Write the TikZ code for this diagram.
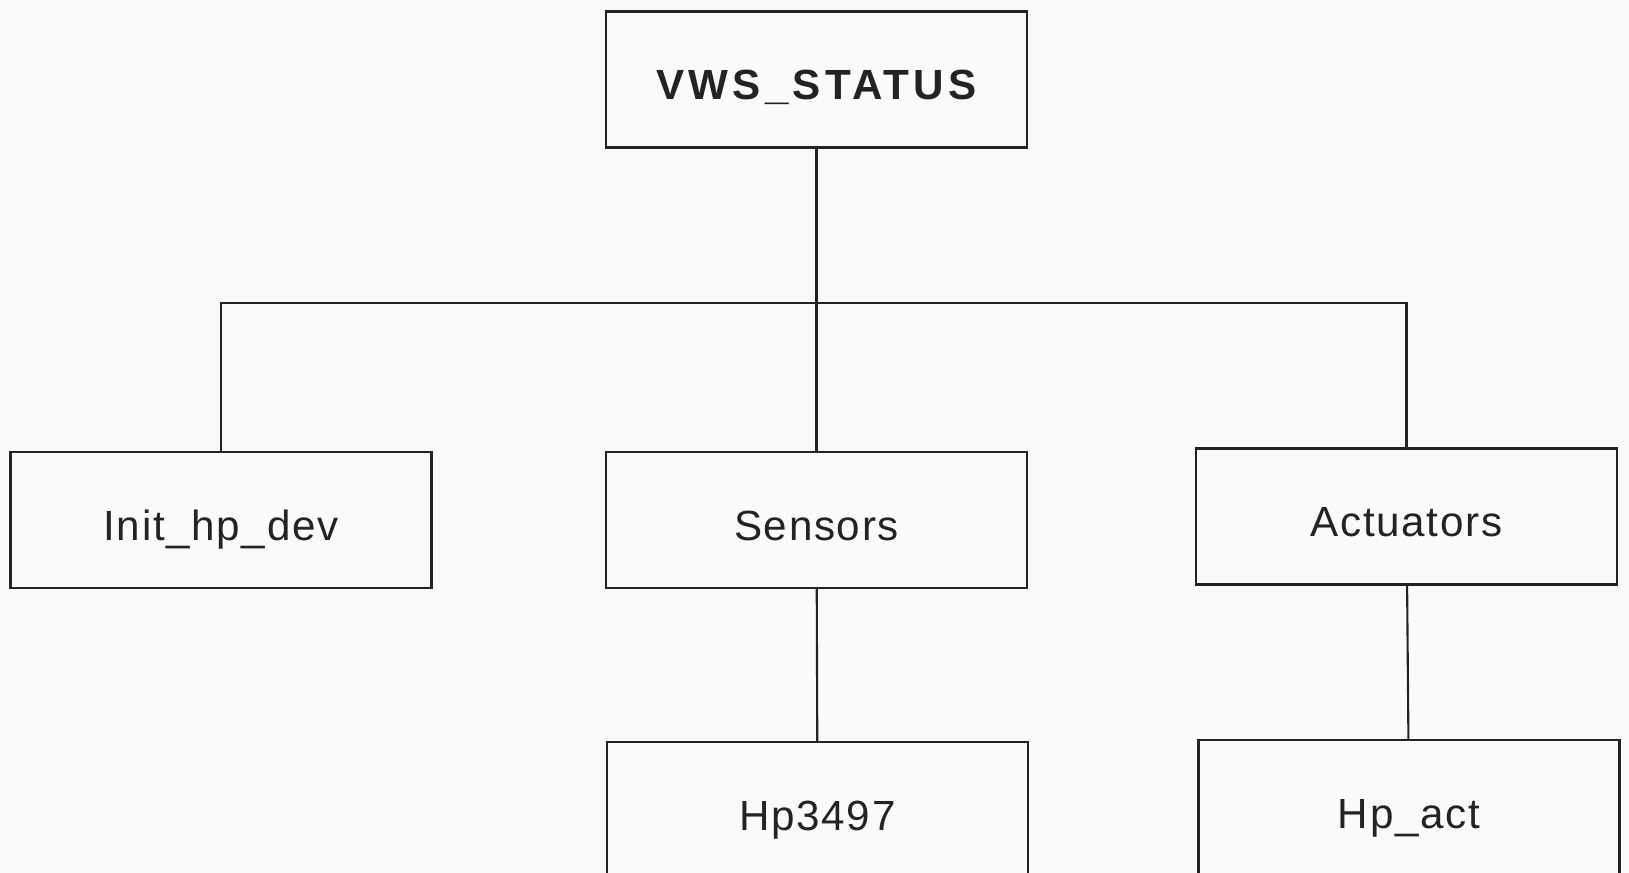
\documentclass[tikz,border=0pt]{standalone}
\usepackage{fontspec}
\setmainfont{Liberation Sans}
\usepackage{tikz}
\usetikzlibrary{positioning}
\definecolor{InkGray}{RGB}{35,35,35}
\definecolor{PaperWhite}{RGB}{250,250,248}

\begin{document}
\begin{tikzpicture}[
  box/.style={draw=InkGray, line width=0.6pt, text=InkGray, minimum width=4.21cm, minimum height=1.36cm, inner sep=0pt,
    text height=2.2ex, text depth=0pt,
    font=\fontsize{12}{14}\selectfont\addfontfeatures{LetterSpace=4}},
  topbox/.style={box, font=\fontsize{12}{14}\selectfont\bfseries\addfontfeatures{LetterSpace=10}},
  line/.style={draw=InkGray, line width=0.6pt}
]
\fill[PaperWhite] (0,0) rectangle (16.29,8.73);
\useasboundingbox (0,0) rectangle (16.29,8.73);

\node[topbox] (status) at (8.165,7.935) {VWS\_STATUS};
\node[box] (init) at (2.21,3.53) {Init\_hp\_dev};
\node[box] (sensors) at (8.165,3.53) {Sensors};
\node[box] (actuators) at (14.065,3.565) {Actuators};
\node[box] (hp3497) at (8.175,0.63) {Hp3497};
\node[box] (hpact) at (14.09,0.65) {Hp\_act};
\coordinate (bus) at (8.165,5.70);

\draw[line] (status) -- (sensors);
\draw[line] (init.north) |- (bus) -| (actuators.north);
\draw[line] (sensors) -- (hp3497);
\draw[line] (actuators) -- (hpact);
\end{tikzpicture}
\end{document}
